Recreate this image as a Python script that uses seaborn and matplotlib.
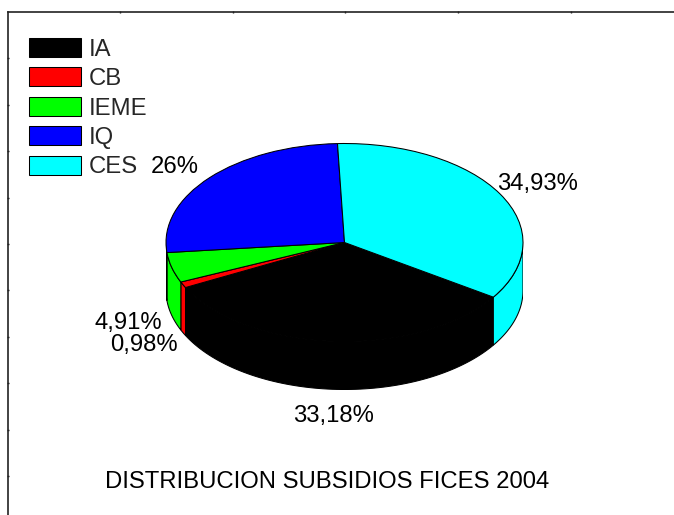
import numpy as np
import matplotlib
matplotlib.use("Agg")
import matplotlib.pyplot as plt
import seaborn as sns

categories = ["IA", "CB", "IEME", "IQ", "CES"]
shares = [33.18, 0.98, 4.91, 26.0, 34.93]
share_labels = ["33,18%", "0,98%", "4,91%", "26%", "34,93%"]
slice_colors = ["#000000", "#ff0000", "#00ff00", "#0000ff", "#00ffff"]
title_text = "DISTRIBUCION SUBSIDIOS FICES 2004"

W, H = 674, 515
sns.set_theme(style="white")
plt.rcParams["font.family"] = ["Liberation Sans", "DejaVu Sans"]
palette = sns.color_palette(slice_colors)
FS = 17.2

fig = plt.figure(figsize=(W / 100, H / 100), dpi=100, facecolor="white")


def box(l, t, r, b):
    return [l / W, 1 - b / H, (r - l) / W, (b - t) / H]


# frame with tiny ticks on left and top
frame = fig.add_axes(box(7.5, 12, 690, 530))
frame.set_xlim(7.5, 690)
frame.set_ylim(530, 12)
for s in ("right", "bottom"):
    frame.spines[s].set_visible(False)
for s in ("left", "top"):
    frame.spines[s].set_color("#222222")
    frame.spines[s].set_linewidth(1.2)
frame.xaxis.tick_top()
frame.set_xticks(7.5 + 112.6 * np.arange(1, 6))
frame.set_yticks(12 + 46.4 * np.arange(1, 11))
frame.tick_params(length=2, width=1, direction="inout", labelleft=False, labeltop=False,
                  left=True, top=True, color="#222222")

# pie: x spans -1..1 over the ellipse width, y -1..1 over its height, plus the wall depth
L, R, T, Bm = 166, 523, 143.5, 389.5
DEPTH_PX = 48
RY_PX = (Bm - T - DEPTH_PX) / 2
depth = DEPTH_PX / RY_PX
ax = fig.add_axes(box(L, T, R, Bm))
ax.patch.set_alpha(0)
edge = dict(edgecolor="black", linewidth=0.75)
start_angle = -33.5

# walls: visible only on the front half of the rim
bounds = start_angle - np.cumsum([0] + shares) * 3.6
for i, color in enumerate(palette):
    s0, s1 = bounds[i], bounds[i + 1]
    hi = min(s0, 0.0)
    lo = max(s1, -180.0)
    if hi <= lo:
        continue
    t = np.radians(np.linspace(hi, lo, 80))
    x = np.cos(t)
    y = np.sin(t)
    ax.fill(np.r_[x, x[::-1]], np.r_[y, y[::-1] - depth], facecolor=color, zorder=1, **edge)
# the rim segment right of the front, which belongs to the last slice
t = np.radians(np.linspace(0.0, start_angle, 40))
x = np.cos(t)
y = np.sin(t)
ax.fill(np.r_[x, x[::-1]], np.r_[y, y[::-1] - depth], facecolor=palette[-1], zorder=1, **edge)

wedges, _ = ax.pie(shares, colors=palette, startangle=start_angle, counterclock=False,
                   radius=1.0, center=(0, 0), wedgeprops=dict(zorder=2, **edge), normalize=True)
ax.set_aspect("auto")
ax.set_xlim(-1.0, 1.0)
ax.set_ylim(-1 - depth, 1)
ax.set_axis_off()
for w in wedges:
    w.set_zorder(2)
    w.set_clip_on(False)

# overlay for text and legend
over = fig.add_axes([0, 0, 1, 1])
over.set_xlim(0, W)
over.set_ylim(H, 0)
over.set_axis_off()
label_xy = [(333, 416), (143.5, 345), (128.5, 323), (174.5, 167), (537.5, 184)]
for lab, (x, y) in zip(share_labels, label_xy):
    over.text(x, y, lab, ha="center", va="center", fontsize=FS, color="black")
over.text(327, 482, title_text, ha="center", va="center", fontsize=FS, color="black")

leg = over.legend(wedges, categories, loc="upper left", bbox_to_anchor=(29 / W, 1 - 38 / H),
                  bbox_transform=fig.transFigure, frameon=False, fontsize=FS, borderpad=0,
                  borderaxespad=0, handlelength=2.18, handleheight=0.84, handletextpad=0.33,
                  labelspacing=0.28)
fig.savefig("out.png", dpi=100, facecolor="white")
